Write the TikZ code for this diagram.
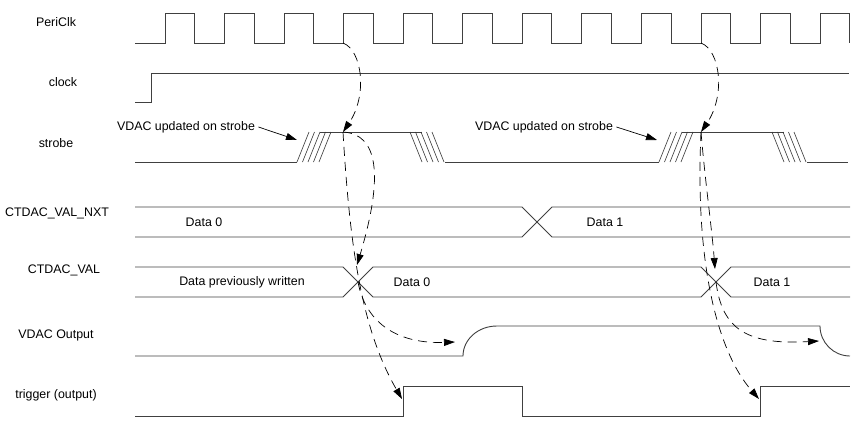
\documentclass[tikz,border=0pt]{standalone}
\usepackage{fontspec}
\setmainfont{Liberation Sans}
\usetikzlibrary{arrows.meta}

\begin{document}
\begin{tikzpicture}[
    x=1pt, y=-1pt,
    every node/.style={font=\fontsize{12.4}{14}\selectfont},
    sig/.style={draw=black!75, line width=0.9pt},
    hatch/.style={draw=black!80, line width=0.6pt},
    flow/.style={draw=black, line width=0.7pt, dash pattern=on 9pt off 6pt,
      -{Triangle[length=11pt,width=7pt]}},
    callout/.style={draw=black, line width=0.7pt, -{Triangle[length=11pt,width=7pt]}},
  ]
  \useasboundingbox (0,0) rectangle (863,432);
  % noms des signaux
  \node (lperi)  at (56,22)  {PeriClk};
  \node (lclock) at (63,82)  {clock};
  \node (lstrb)  at (56,143) {strobe};
  \node (lnxt)   at (57,213) {CTDAC\_VAL\_NXT};
  \node (lval)   at (64,270) {CTDAC\_VAL};
  \node (lvdac)  at (56,335) {VDAC Output};
  \node (ltrig)  at (56,395) {trigger (output)};
  % PeriClk et clock
  \draw[sig] (135,43) foreach \k in {0,...,11} {-- ({165+59.55*\k},43) -- ++(0,-30) -- ++(29.6,0) -- ++(0,30)};
  \draw[sig] (135,102) -- (151,102) -- (151,73) -- (849,73);
  % strobe
  \draw[sig] (135,162) -- (297,162) (320,132) -- (422,132) (445,162) -- (659,162)
    (682,132) -- (784,132) (807,162) -- (848,162);
  \foreach \o in {0,362}
    \foreach \i in {0,...,4} {
      \draw[hatch] ({297+\o+5.5*\i},162) -- ({309+\o+5.5*\i},132);
      \draw[hatch] ({410+\o+5.5*\i},132) -- ({422+\o+5.5*\i},162);
    }
  % CTDAC_VAL_NXT
  \draw[sig] (135,207) -- (522,207) -- (552,237) -- (850,237);
  \draw[sig] (135,237) -- (522,237) -- (552,207) -- (850,207);
  \node (dnxt0) at (204,222) {Data 0};
  \node (dnxt1) at (605,222) {Data 1};
  % CTDAC_VAL
  \draw[sig] (135,267) -- (343,267) -- (373,297) -- (701,297) -- (731,267) -- (850,267);
  \draw[sig] (135,297) -- (343,297) -- (373,267) -- (701,267) -- (731,297) -- (850,297);
  \node (dprev) at (242,282) {Data previously written};
  \node (dval0) at (412,282) {Data 0};
  \node (dval1) at (772,282) {Data 1};
  % VDAC Output
  \draw[sig] (135,356) -- (463,356) .. controls (463,339.5) and (478,326) .. (497,326)
    -- (820,326) .. controls (820,342.5) and (833.5,356) .. (850,356);
  % trigger
  \draw[sig] (135,416) -- (403,416) -- (403,386) -- (522,386) -- (522,416)
    -- (760,416) -- (760,386) -- (850,386);
  % annotations
  \node (upd1) at (186,127) {VDAC updated on strobe};
  \node (upd2) at (544,127) {VDAC updated on strobe};
  \coordinate (edge1) at (297,140);
  \coordinate (edge2) at (657,140);
  \draw[callout] (upd1.east) -- (edge1);
  \draw[callout] (upd2.east) -- (edge2);
  % points d'arrivee des fleches
  \coordinate (clk1) at (343,43);  \coordinate (stb1) at (343,132);
  \coordinate (xa1) at (357,265);  \coordinate (xc1) at (358,282);
  \coordinate (trg1) at (402,399); \coordinate (out1) at (455,342);
  \coordinate (clk2) at (701,43);  \coordinate (stb2) at (701,132);
  \coordinate (xa2) at (715,269);  \coordinate (xc2) at (716,282);
  \coordinate (trg2) at (759,399); \coordinate (out2) at (819,341);
  % causalite
  \draw[flow] (clk1) .. controls (362,50) and (368,95) .. (stb1);
  \draw[flow] (stb1) .. controls (378,134) and (384,175) .. (xa1);
  \draw[flow] (stb1) .. controls (350,250) and (362,330) .. (trg1);
  \draw[flow] (xc1) .. controls (366,325) and (400,344) .. (out1);
  \draw[flow] (clk2) .. controls (720,50) and (726,95) .. (stb2);
  \draw[flow] (stb2) .. controls (705,180) and (712,230) .. (xa2);
  \draw[flow] (stb2) .. controls (695,260) and (716,350) .. (trg2);
  \draw[flow] (xc2) .. controls (722,330) and (748,345) .. (out2);
\end{tikzpicture}
\end{document}
